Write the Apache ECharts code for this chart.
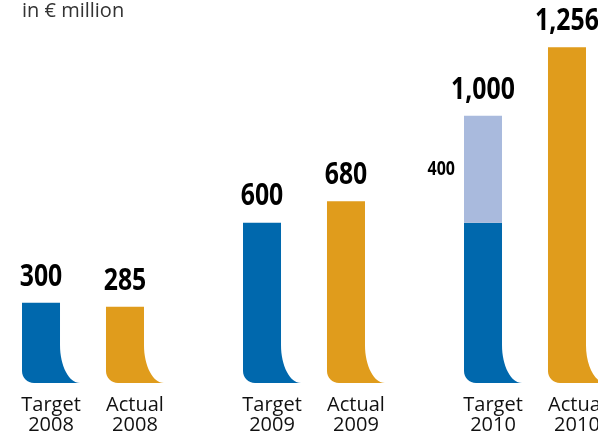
<!DOCTYPE html>
<html>
<head>
<meta charset="utf-8">
<script src="https://cdn.jsdelivr.net/npm/echarts@6/dist/echarts.min.js"></script>
<style>
  html, body { margin: 0; padding: 0; background: #fff; }
  #chart { width: 598px; height: 436px; }
</style>
</head>
<body>
<div id="chart"></div>
<script>
// data
var years = ['2008', '2009', '2010'];
var kinds = ['Target', 'Actual'];
var target = [300, 600, 600];
var targetExtra = [0, 0, 400];
var actual = [285, 680, 1256];

var colors = { target: '#0068ad', actual: '#e09c1c', extra: '#a9badd' };

// [x, value, extra, kind, yearIndex]
var data = [];
years.forEach(function (y, i) {
  data.push([i - 0.19, target[i], targetExtra[i], 0, i]);
  data.push([i + 0.19, actual[i], 0, 1, i]);
});

function fmt(n) {
  return n.toLocaleString('en-US');
}

function renderItem(params, api) {
  var x = api.value(0), v = api.value(1), extra = api.value(2);
  var kind = api.value(3), yi = api.value(4);
  var base = api.coord([x, 0]);
  var cx = base[0], yb = base[1];
  var w = 38, fw = 20, fh = 38, r = 12, k = 0.5523;
  var xl = cx - 29, xr = xl + w, yc = yb - fh;
  var yt = api.coord([x, v])[1];
  var yTop = api.coord([x, v + extra])[1];

  // bar with the foot at the bottom right
  var d = 'M' + xl + ',' + yt + 'L' + xr + ',' + yt + 'L' + xr + ',' + yc +
    'C' + xr + ',' + (yc + k * fh) + ' ' + (xr + fw - k * fw) + ',' + yb + ' ' + (xr + fw) + ',' + yb +
    'L' + (xl + r) + ',' + yb +
    'C' + (xl + r - k * r) + ',' + yb + ' ' + xl + ',' + (yb - r + k * r) + ' ' + xl + ',' + (yb - r) + 'Z';

  var children = [{
    type: 'path',
    shape: { pathData: d },
    style: { fill: kind === 0 ? colors.target : colors.actual }
  }];

  if (extra > 0) {
    children.push({
      type: 'rect',
      shape: { x: xl, y: yTop, width: w, height: yt - yTop },
      style: { fill: colors.extra }
    });
    children.push({
      type: 'text',
      x: xl - 9, y: (yt + yTop) / 2, scaleX: 0.8,
      style: {
        text: fmt(extra), x: 0, y: 0,
        align: 'right', verticalAlign: 'middle',
        font: 'bold 20px "Open Sans"', fill: '#000'
      }
    });
  }

  children.push({
    type: 'text',
    x: xl + w / 2, y: yTop - 26, scaleX: 0.8,
    style: {
      text: fmt(v + extra), x: 0, y: 0,
      align: 'center', verticalAlign: 'middle',
      font: 'bold 31px "Open Sans"', fill: '#000'
    }
  });

  children.push({
    type: 'text',
    style: {
      text: kinds[kind] + '\n' + years[yi], x: cx, y: yb + 12,
      align: 'center', verticalAlign: 'top', lineHeight: 20,
      font: '20px "Open Sans"', fill: '#111'
    }
  });

  return { type: 'group', children: children };
}

var myChart = echarts.init(document.getElementById('chart'));
var option = {
  animation: false,
  title: {
    text: 'in € million',
    left: 17,
    top: -4,
    textStyle: { fontFamily: 'Open Sans', fontSize: 20, fontWeight: 'normal', color: '#333' }
  },
  grid: { left: 0, right: 0, top: 0, bottom: 53 },
  xAxis: { type: 'value', min: -93 / 221, max: 505 / 221, show: false },
  yAxis: { type: 'value', min: 0, max: 1433, show: false },
  series: [{
    type: 'custom',
    renderItem: renderItem,
    clip: false,
    data: data
  }]
};
myChart.setOption(option);
</script>
</body>
</html>
